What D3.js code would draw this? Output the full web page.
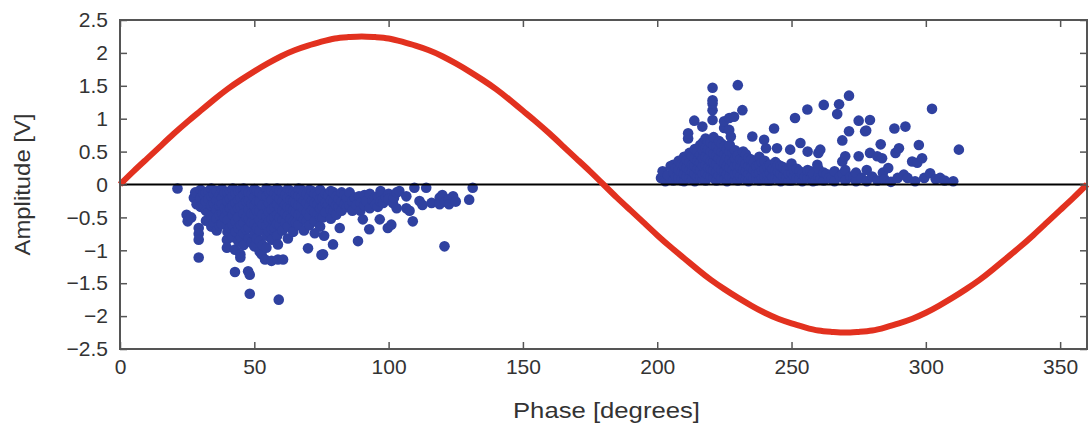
<!DOCTYPE html>
<html>
<head>
<meta charset="utf-8">
<script src="https://cdn.jsdelivr.net/npm/d3@7"></script>
<style>
  body { margin: 0; background: #fff; }
  text { font-family: "Liberation Sans", Arial, sans-serif; }
</style>
</head>
<body>
<div id="viz"></div>
<script>
const w = 1089;
const h = 428;
const margin = {top: 20, right: 2, bottom: 79, left: 120};

// red reference wave, read every 5 degrees
const wavePhase = [0,5,10,15,20,25,30,35,40,45,50,55,60,65,70,75,80,85,90,
  95,100,105,110,115,120,125,130,135,140,145,150,155,160,165,170,175,180,
  185,190,195,200,205,210,215,220,225,230,235,240,245,250,255,260,265,270,
  275,280,285,290,295,300,305,310,315,320,325,330,335,340,345,350,355,360];
const waveAmp = [0,0.2,0.39,0.58,0.77,0.95,1.12,1.29,1.45,1.59,1.72,1.84,1.95,2.04,2.11,2.17,2.22,2.24,2.25,
  2.24,2.22,2.17,2.11,2.04,1.95,1.84,1.72,1.59,1.45,1.29,1.12,0.95,0.77,0.58,0.39,0.2,0,
  -0.2,-0.39,-0.58,-0.77,-0.95,-1.12,-1.29,-1.45,-1.59,-1.72,-1.84,-1.95,-2.04,-2.11,-2.17,-2.22,-2.24,-2.25,
  -2.24,-2.22,-2.17,-2.11,-2.04,-1.95,-1.84,-1.72,-1.59,-1.45,-1.29,-1.12,-0.95,-0.77,-0.58,-0.39,-0.2,0];

// negative cluster, columns of [phase, [amplitudes]]
const negCols = [
  [21.4,[-0.06]], [24.8,[-0.46]], [25.2,[-0.56]], [26.5,[-0.5]],
  [27.5,[-0.2]], [28,[-0.12]], [28.5,[-0.3]],
  [29.3,[-0.66,-0.75,-0.84,-1.11]],
  [30,[-0.08,-0.2,-0.34]],
  [31,[-0.14,-0.3]],
  [32,[-0.12,-0.26,-0.4,-0.55]],
  [33,[-0.1,-0.22,-0.42]],
  [34,[-0.06,-0.18,-0.32,-0.48,-0.64]],
  [35,[-0.14,-0.3,-0.58]],
  [36,[-0.1,-0.24,-0.38,-0.52,-0.7]],
  [37,[-0.16,-0.32,-0.46,-0.62]],
  [38,[-0.07,-0.2,-0.3,-0.44,-0.6]],
  [39,[-0.12,-0.36,-0.5]],
  [39.8,[-0.84,-0.96]],
  [40,[-0.12,-0.26,-0.4,-0.54,-0.72]],
  [41,[-0.1,-0.22,-0.36,-0.66]],
  [42,[-0.06,-0.18,-0.32,-0.46,-0.62,-0.8]],
  [42.8,[-0.99,-1.33]],
  [43,[-0.13,-0.28,-0.4,-0.56,-0.72]],
  [44,[-0.1,-0.24,-0.36,-0.5,-0.66,-0.86]],
  [44.8,[-1.06,-1.11]],
  [45,[-0.08,-0.2,-0.34,-0.62,-0.8]],
  [46,[-0.06,-0.16,-0.3,-0.44,-0.58,-0.74,-0.92]],
  [47,[-0.1,-0.26,-0.5,-0.68]],
  [47.7,[-1.32]], [48.3,[-1.37,-1.66]],
  [48,[-0.12,-0.24,-0.38,-0.52,-0.66,-0.82]],
  [49,[-0.14,-0.3,-0.44,-0.58,-0.88]],
  [50,[-0.07,-0.2,-0.32,-0.46,-0.6,-0.76,-0.94]],
  [51,[-0.1,-0.26,-0.4,-0.66,-0.82]],
  [52,[-0.12,-0.26,-0.4,-0.54,-0.7,-0.86,-1.02]],
  [52.7,[-1.06]],
  [53,[-0.16,-0.32,-0.46,-0.6,-0.92]],
  [54,[-1.14]],
  [54.5,[-0.06,-0.18,-0.34,-0.48,-0.62,-0.78,-0.96]],
  [55.5,[-0.12,-0.28,-0.42,-0.56,-0.72]],
  [56.4,[-1.16]],
  [56.5,[-0.1,-0.24,-0.38,-0.52,-0.68,-0.84]],
  [57.5,[-0.14,-0.34,-0.5,-0.66]],
  [58.5,[-0.06,-0.18,-0.3,-0.46,-0.6,-0.78]],
  [58.8,[-0.91,-1.14]], [59.1,[-1.75]],
  [59.5,[-0.1,-0.22,-0.36,-0.5,-0.62]],
  [60.5,[-0.12,-0.26,-0.4,-0.54,-0.7]],
  [60.7,[-1.14]],
  [61.5,[-0.16,-0.3,-0.44,-0.58]],
  [62.5,[-0.07,-0.2,-0.34,-0.48,-0.64,-0.82]],
  [63.5,[-0.1,-0.24,-0.36,-0.52]],
  [64.5,[-0.12,-0.26,-0.4,-0.56,-0.72]],
  [65.5,[-0.14,-0.28,-0.42,-0.58]],
  [66.5,[-0.06,-0.18,-0.32,-0.46,-0.62]],
  [67.5,[-0.08,-0.2,-0.34,-0.48]],
  [68.5,[-0.12,-0.24,-0.38,-0.52,-0.7]],
  [69.5,[-0.14,-0.28,-0.42,-0.56]],
  [70,[-0.97]],
  [70.5,[-0.08,-0.2,-0.34,-0.48,-0.62]],
  [71.5,[-0.1,-0.24,-0.38]],
  [72.5,[-0.14,-0.28,-0.42,-0.56,-0.74]],
  [73.5,[-0.16,-0.3,-0.46]],
  [74.5,[-0.08,-0.22,-0.36,-0.5,-0.64]],
  [75,[-1.07]],
  [75.5,[-0.2,-0.34,-0.5]],
  [75.6,[-1.06]], [76,[-0.78]],
  [76.5,[-0.14,-0.28,-0.42]],
  [77.5,[-0.16,-0.3]],
  [78.5,[-0.1,-0.24,-0.38,-0.52]],
  [79.3,[-0.91]],
  [79.5,[-0.12,-0.26,-0.4]],
  [80.5,[-0.18,-0.32,-0.46]],
  [81.5,[-0.22,-0.34]],
  [81.8,[-0.66]],
  [82.5,[-0.12,-0.26,-0.4]],
  [83.5,[-0.16,-0.3]],
  [84.5,[-0.2,-0.34]],
  [85.5,[-0.12,-0.32]],
  [86.5,[-0.26,-0.4]],
  [87.5,[-0.2]],
  [88,[-0.31]], [88.6,[-0.86]], [89,[-0.18]], [89.5,[-0.28,-0.4]],
  [90.4,[-0.53]], [91,[-0.16,-0.32]], [91.7,[-0.25]], [92.8,[-0.68]], [93,[-0.14,-0.36]],
  [94,[-0.24]], [95,[-0.2,-0.3]], [96,[-0.18,-0.34]], [96.7,[-0.53]], [97,[-0.1,-0.26]],
  [98,[-0.28]], [99,[-0.2]], [99.7,[-0.66]], [100,[-0.14,-0.22]],
  [101,[-0.61]], [101.6,[-0.28]], [102,[-0.2]], [103,[-0.12,-0.36]],
  [104,[-0.1]], [106.6,[-0.18,-0.36]], [107.8,[-0.4]], [109,[-0.56]],
  [109.6,[-0.05]], [111.5,[-0.25]], [112.6,[-0.31]], [114,[-0.05]],
  [116,[-0.28]], [119,[-0.2,-0.3]], [120,[-0.16]], [120.8,[-0.94]],
  [121,[-0.26]], [122.5,[-0.22,-0.3]], [124,[-0.18]], [125,[-0.26]],
  [130,[-0.23]], [131.3,[-0.05]]
];

// positive cluster, columns of [phase, [amplitudes]]
const posCols = [
  [201.4,[0.1]], [202,[0.2]], [203,[0.05]], [204,[0.14]], [205,[0.28]],
  [206,[0.06,0.18,0.3]],
  [207,[0.12,0.26]],
  [208,[0.1,0.22,0.36]],
  [209,[0.06,0.18,0.3]],
  [210,[0.05,0.16,0.28,0.42]],
  [211,[0.12,0.26,0.38]],
  [211.5,[0.7,0.78]],
  [212,[0.1,0.22,0.34,0.48]],
  [213,[0.08,0.2,0.3,0.44]],
  [213.8,[0.97]],
  [214,[0.05,0.16,0.28,0.4,0.54]],
  [215,[0.12,0.24,0.36,0.5]],
  [216,[0.1,0.22,0.34,0.46,0.6]],
  [216.8,[0.88]],
  [217,[0.08,0.16,0.28,0.4,0.52,0.64]],
  [218,[0.06,0.18,0.3,0.42,0.56,0.7]],
  [219,[0.14,0.26,0.4,0.54,0.66]],
  [220,[0.12,0.24,0.36,0.5,0.64]],
  [220.6,[0.98,1.13,1.23,1.28,1.47]],
  [221,[0.1,0.22,0.34,0.46,0.6,0.72]],
  [222,[0.06,0.18,0.3,0.44,0.58]],
  [223,[0.14,0.26,0.4,0.52,0.66]],
  [224,[0.1,0.22,0.36,0.5,0.62]],
  [224.9,[0.86,0.96]],
  [225,[0.08,0.2,0.32,0.46,0.58]],
  [226,[0.05,0.16,0.28,0.42,0.54]],
  [226.8,[0.83,1.01]],
  [227,[0.12,0.26,0.38,0.5,0.6]],
  [227.4,[0.73]],
  [228,[0.1,0.22,0.34,0.48]],
  [228.6,[1.03]],
  [229,[0.08,0.16,0.28,0.4,0.52]],
  [230,[0.06,0.18,0.3,0.44,1.51]],
  [231,[0.12,0.26,0.38]],
  [231.7,[1.13]],
  [232,[0.1,0.22,0.36,0.5]],
  [233,[0.08,0.2,0.32,0.46]],
  [234,[0.05,0.16,0.28,0.4]],
  [235,[0.12,0.26,0.38]],
  [235.4,[0.73]],
  [236,[0.1,0.22,0.34]],
  [237,[0.08,0.18,0.28]],
  [238,[0.06,0.18,0.3,0.42]],
  [239,[0.1,0.22,0.34]],
  [239.8,[0.68]],
  [240,[0.12,0.24,0.36]],
  [240.5,[0.55]],
  [241,[0.06,0.16,0.28]],
  [242,[0.06,0.18,0.3]],
  [243,[0.12,0.24]],
  [243.5,[0.85]],
  [244,[0.1,0.22,0.34]],
  [244.6,[0.55]],
  [245,[0.08,0.2,0.3]],
  [246,[0.05,0.16,0.28]],
  [247,[0.12,0.26]],
  [248,[0.1,0.22]],
  [249,[0.06,0.16]],
  [249.5,[0.53]],
  [250,[0.06,0.18,0.32]],
  [251,[0.12,0.22]],
  [251.3,[1.01]],
  [252,[0.1,0.24]],
  [253,[0.08,0.2]],
  [253.3,[0.63]],
  [254,[0.05,0.16]],
  [255,[0.12]],
  [255.9,[1.14]],
  [256,[0.1,0.22,0.5]],
  [257,[0.08,0.2]],
  [258,[0.05,0.16]],
  [259,[0.06]],
  [259.6,[0.3]],
  [260,[0.12,0.24,0.48]],
  [260.7,[0.53]],
  [261,[0.1]],
  [262,[0.06,0.18,1.21]],
  [263,[0.16]],
  [264,[0.1]],
  [265,[0.08]],
  [266,[0.05,0.2]],
  [267,[1.07]], [267.7,[1.22]],
  [268,[0.12]],
  [268.9,[0.35,0.67]],
  [269,[0.16]],
  [270,[0.06,0.22,0.43]],
  [271.4,[0.81,1.35]],
  [272,[0.12]],
  [273,[0.1]],
  [274,[0.05,0.18]],
  [275,[0.43,0.97]],
  [276,[0.1]],
  [277.4,[0.81]], [277.8,[0.82]],
  [278,[0.05,0.22]],
  [279.2,[0.48,0.98]],
  [280,[0.12]],
  [281.9,[0.43]],
  [282,[0.06]],
  [283.2,[0.61]], [283.7,[0.4]],
  [284,[0.18]], [284.6,[0.08]],
  [286,[0.25]], [287,[0.04]],
  [288.3,[0.85]], [288.7,[0.48]],
  [289.5,[0.1]], [290,[0.55]],
  [291.8,[0.15]], [292.4,[0.88]], [293.2,[0.1]],
  [294.9,[0.35]], [296,[0.05]], [296.8,[0.33]],
  [297.4,[0.6]], [298.6,[0.4]], [299.4,[0.1]],
  [301.6,[0.17]], [302.3,[1.15]], [303.7,[0.08]],
  [305.3,[0.1]], [307,[0.06]], [310.2,[0.05]], [312.3,[0.53]]
];

const xTicks = [0,50,100,150,200,250,300,350];
const yTicks = [-2.5,-2,-1.5,-1,-0.5,0,0.5,1,1.5,2,2.5];

const points = negCols.concat(posCols)
    .flatMap(([p, amps]) => amps.map(a => ({phase: p, amp: a})));

const iw = w - margin.left - margin.right;
const ih = h - margin.top - margin.bottom;

const svg = d3.select('#viz').append('svg')
    .attr('width', w)
    .attr('height', h);

const g = svg.append('g')
    .attr('transform', `translate(${margin.left},${margin.top})`);

const x = d3.scaleLinear().domain([0, 360]).range([0, iw]);
const y = d3.scaleLinear().domain([-2.5, 2.5]).range([ih, 0]);
const fmt = d3.format('~g');

// dots first, then zero line and wave over them
g.append('g')
    .selectAll('circle')
    .data(points)
    .join('circle')
    .attr('cx', d => x(d.phase))
    .attr('cy', d => y(d.amp))
    .attr('r', 5.3)
    .attr('fill', '#2f41a0');

g.append('line')
    .attr('x1', 0).attr('x2', iw)
    .attr('y1', y(0)).attr('y2', y(0))
    .attr('stroke', '#000')
    .attr('stroke-width', 2);

const wave = wavePhase.map((p, i) => [p, waveAmp[i]]);
g.append('path')
    .datum(wave)
    .attr('fill', 'none')
    .attr('stroke', '#e2311f')
    .attr('stroke-width', 6)
    .attr('d', d3.line().x(d => x(d[0])).y(d => y(d[1])).curve(d3.curveNatural));

// axes with inward ticks
function styleAxis(sel) {
  sel.select('.domain').remove();
  sel.selectAll('.tick line').attr('stroke', '#555').attr('stroke-width', 1.5);
  sel.selectAll('.tick text')
      .attr('fill', '#333')
      .style('font-size', '21px')
      .style('font-family', '"Liberation Sans", Arial, sans-serif');
}

g.append('g')
    .attr('transform', `translate(0,${ih})`)
    .call(d3.axisBottom(x).tickValues(xTicks).tickFormat(fmt).tickSize(-7).tickPadding(10))
    .call(styleAxis);

g.append('g')
    .call(d3.axisTop(x).tickValues(xTicks).tickFormat('').tickSize(-7))
    .call(styleAxis);

g.append('g')
    .call(d3.axisLeft(y).tickValues(yTicks).tickFormat(fmt).tickSize(-7).tickPadding(12))
    .call(styleAxis);

g.append('g')
    .attr('transform', `translate(${iw},0)`)
    .call(d3.axisRight(y).tickValues(yTicks).tickFormat('').tickSize(-7))
    .call(styleAxis);

g.append('rect')
    .attr('width', iw)
    .attr('height', ih)
    .attr('fill', 'none')
    .attr('stroke', '#555')
    .attr('stroke-width', 2);

svg.append('text')
    .attr('x', 513)
    .attr('y', 418)
    .attr('textLength', 187)
    .attr('lengthAdjust', 'spacingAndGlyphs')
    .attr('fill', '#333')
    .style('font-size', '22px')
    .text('Phase [degrees]');

svg.append('text')
    .attr('transform', `translate(30,${margin.top + y(0)}) rotate(-90)`)
    .attr('x', -71)
    .attr('textLength', 142)
    .attr('lengthAdjust', 'spacingAndGlyphs')
    .attr('fill', '#333')
    .style('font-size', '22px')
    .text('Amplitude [V]');
</script>
</body>
</html>
